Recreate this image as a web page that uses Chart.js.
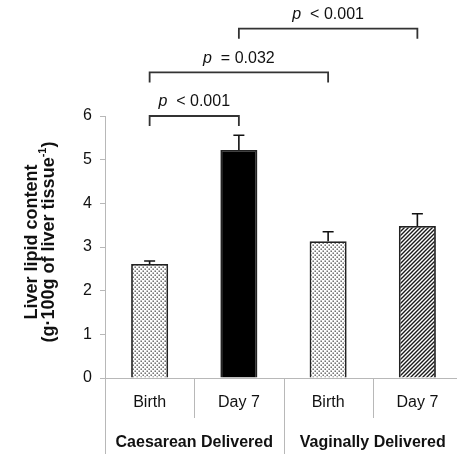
<!DOCTYPE html>
<html>
<head>
<meta charset="utf-8">
<script src="https://cdn.jsdelivr.net/npm/chart.js@4.4.0/dist/chart.umd.min.js"></script>
<style>
  html, body { margin: 0; padding: 0; background: #fff; overflow: hidden; }
</style>
</head>
<body>
<canvas id="chart" width="462" height="454"></canvas>
<script>
// bar data
var categories = ['Birth', 'Day 7', 'Birth', 'Day 7'];
var groups = ['Caesarean Delivered', 'Vaginally Delivered'];
var lipid = [2.61, 5.22, 3.13, 3.48];
var lipidErr = [0.07, 0.34, 0.22, 0.28];
var yTicks = [0, 1, 2, 3, 4, 5, 6];

// significance brackets
var bracketFrom = [0, 0, 1];
var bracketTo = [1, 2, 3];
var bracketLevel = [6, 7, 8];
var bracketText = ['< 0.001', '= 0.032', '< 0.001'];

var FONT = '"Liberation Sans", Arial, sans-serif';
var AXIS = '#b8b8b8';

function makePattern (kind) {
    var c = document.createElement('canvas');
    var g = c.getContext('2d');
    if (kind === 'dots') {
        c.width = 4; c.height = 4;
        g.fillStyle = '#fff';
        g.fillRect(0, 0, 4, 4);
        g.fillStyle = '#555';
        g.fillRect(0.5, 0.5, 1.4, 1.4);
        g.fillRect(2.5, 2.5, 1.4, 1.4);
    } else {
        c.width = 4; c.height = 4;
        g.fillStyle = '#fff';
        g.fillRect(0, 0, 4, 4);
        g.strokeStyle = '#1a1a1a';
        g.lineWidth = 1.4;
        g.beginPath();
        g.moveTo(-1, 5); g.lineTo(5, -1);
        g.moveTo(-1, 1); g.lineTo(1, -1);
        g.moveTo(3, 5); g.lineTo(5, 3);
        g.stroke();
    }
    return g.createPattern(c, 'repeat');
}

//Error bars, brackets and the custom axis decorations
var extras = {
    id: 'extras',
    afterDraw: function (chart) {
        var ctx = chart.ctx;
        var x = chart.scales.x;
        var y = chart.scales.y;
        var area = chart.chartArea;
        var meta = chart.getDatasetMeta(0);
        var catW = x.getPixelForValue(1) - x.getPixelForValue(0);

        ctx.save();

        //error bars (upper only)
        ctx.strokeStyle = '#111';
        ctx.lineWidth = 1.6;
        meta.data.forEach(function (bar, i) {
            var top = y.getPixelForValue(lipid[i] + lipidErr[i]);
            ctx.beginPath();
            ctx.moveTo(bar.x, bar.y);
            ctx.lineTo(bar.x, top);
            ctx.moveTo(bar.x - 5.5, top);
            ctx.lineTo(bar.x + 5.5, top);
            ctx.stroke();
        });

        //brackets
        ctx.strokeStyle = '#333';
        ctx.lineWidth = 1.8;
        ctx.fillStyle = '#111';
        ctx.textBaseline = 'middle';
        for (var b = 0; b < bracketFrom.length; b++) {
            var x1 = x.getPixelForValue(bracketFrom[b]);
            var x2 = x.getPixelForValue(bracketTo[b]);
            var yl = y.getPixelForValue(bracketLevel[b]);
            var yLeg = y.getPixelForValue(bracketLevel[b] - 0.23);
            ctx.beginPath();
            ctx.moveTo(x1, yLeg);
            ctx.lineTo(x1, yl);
            ctx.lineTo(x2, yl);
            ctx.lineTo(x2, yLeg);
            ctx.stroke();

            ctx.font = 'italic 16px ' + FONT;
            var wp = ctx.measureText('p  ').width;
            ctx.font = '16px ' + FONT;
            var wr = ctx.measureText(bracketText[b]).width;
            var sx = (x1 + x2) / 2 - (wp + wr) / 2;
            var ty = yl - 14;
            ctx.textAlign = 'left';
            ctx.font = 'italic 16px ' + FONT;
            ctx.fillText('p', sx, ty);
            ctx.font = '16px ' + FONT;
            ctx.fillText(bracketText[b], sx + wp, ty);
        }

        //axis extensions and category dividers
        ctx.strokeStyle = AXIS;
        ctx.lineWidth = 1;
        ctx.beginPath();
        ctx.moveTo(area.left + 0.5, area.bottom);
        ctx.lineTo(area.left + 0.5, chart.height);
        for (var k = 1; k < categories.length; k++) {
            var dx = Math.round(x.getPixelForValue(k) - catW / 2) + 0.5;
            ctx.moveTo(dx, area.bottom);
            ctx.lineTo(dx, k === 2 ? chart.height : area.bottom + 40);
        }
        ctx.stroke();

        //category labels
        ctx.fillStyle = '#111';
        ctx.textAlign = 'center';
        ctx.font = '16px ' + FONT;
        categories.forEach(function (c, i) {
            ctx.fillText(c, x.getPixelForValue(i), area.bottom + 25);
        });
        ctx.font = 'bold 16px ' + FONT;
        groups.forEach(function (g, i) {
            var gx = (x.getPixelForValue(i * 2) + x.getPixelForValue(i * 2 + 1)) / 2;
            ctx.fillText(g, gx, area.bottom + 65);
        });

        //y axis title
        ctx.rotate(-Math.PI / 2);
        ctx.font = 'bold 18px ' + FONT;
        ctx.fillText('Liver lipid content', -242, 32);
        var main = '(g\u00b7100g of liver tissue';
        ctx.font = 'bold 11px ' + FONT;
        var wSup = ctx.measureText('-1').width;
        ctx.font = 'bold 18px ' + FONT;
        var wMain = ctx.measureText(main).width;
        var wClose = ctx.measureText(')').width;
        var start = -242 - (wMain + wSup + wClose) / 2;
        ctx.textAlign = 'left';
        ctx.fillText(main, start, 49);
        ctx.fillText(')', start + wMain + wSup, 49);
        ctx.font = 'bold 11px ' + FONT;
        ctx.fillText('-1', start + wMain, 43);

        ctx.restore();
    }
};

var ctx = document.getElementById('chart').getContext('2d');
var chart = new Chart(ctx, {
    type: 'bar',
    data: {
        labels: categories,
        datasets: [{
            data: lipid,
            backgroundColor: [makePattern('dots'), '#000', makePattern('dots'), makePattern('hatch')],
            borderColor: '#222',
            borderWidth: 1.8,
            borderSkipped: 'bottom',
            categoryPercentage: 1,
            barPercentage: 0.415
        }]
    },
    options: {
        responsive: false,
        animation: false,
        layout: { padding: { top: 116, right: 0, left: 0, bottom: 0 } },
        plugins: { legend: { display: false }, tooltip: { enabled: false } },
        scales: {
            x: {
                ticks: { display: false },
                grid: { display: false },
                border: { display: true, color: AXIS, width: 1 },
                afterFit: function (scale) { scale.height = 76; }
            },
            y: {
                min: 0,
                max: 6,
                afterBuildTicks: function (scale) {
                    scale.ticks = yTicks.map(function (v) { return { value: v }; });
                },
                ticks: {
                    color: '#111',
                    font: { family: FONT, size: 16 },
                    padding: 8
                },
                grid: { drawOnChartArea: false, drawTicks: true, tickLength: 5, color: AXIS },
                border: { display: true, color: AXIS, width: 1 },
                afterFit: function (scale) { scale.width = 105; }
            }
        }
    },
    plugins: [extras]
});
</script>
</body>
</html>
